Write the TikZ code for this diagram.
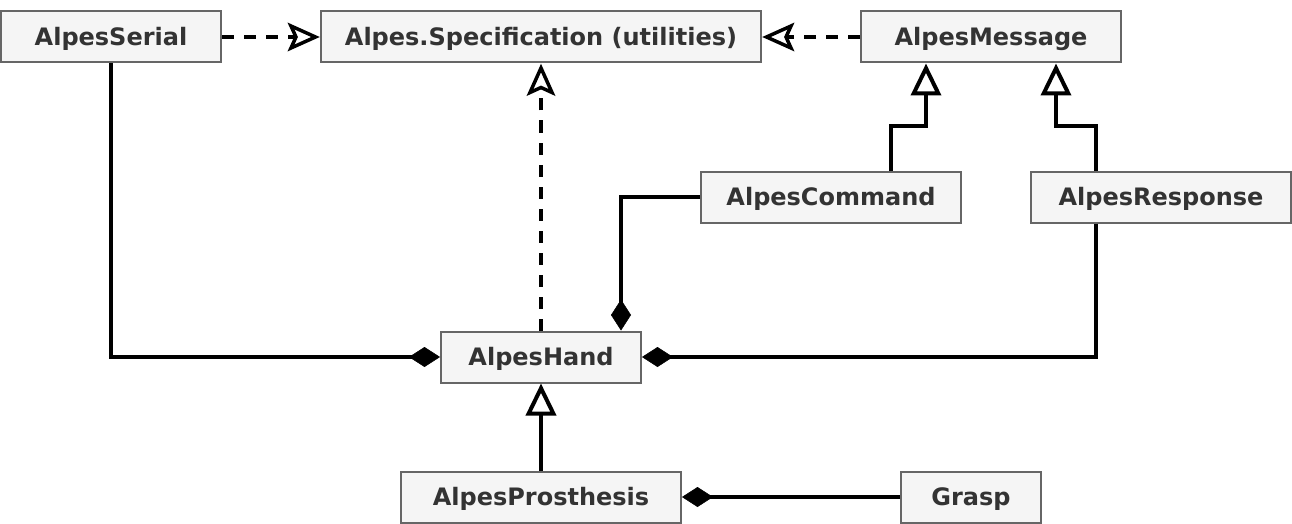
\documentclass[tikz,border=0pt]{standalone}
\usepackage{fontspec}
\setmainfont{DejaVu Sans}
\usetikzlibrary{arrows.meta}
\definecolor{boxfill}{HTML}{F5F5F5}
\definecolor{boxline}{HTML}{666666}
\definecolor{boxtext}{HTML}{333333}
\pgfdeclarearrow{
  name=UMLdep,
  parameters={dep},
  setup code={
    \pgfarrowssettipend{0pt}
    \pgfarrowssetbackend{-30pt}
    \pgfarrowssetlineend{-22pt}
  },
  drawing code={
    \pgfsetdash{}{0pt}
    \pgfsetlinewidth{3.5pt}
    \pgfsetmiterjoin
    \pgfpathmoveto{\pgfpoint{-4.5pt}{0pt}}
    \pgfpathlineto{\pgfpoint{-29pt}{11pt}}
    \pgfpathlineto{\pgfpoint{-24pt}{0pt}}
    \pgfpathlineto{\pgfpoint{-29pt}{-11pt}}
    \pgfpathclose
    \pgfsetfillcolor{white}
    \pgfusepathqfillstroke
  },
}
\tikzset{
  cls/.style={draw=boxline, fill=boxfill, line width=2pt, text=boxtext,
    font=\fontsize{24}{28}\selectfont\bfseries, inner sep=0pt,
    text height=17.5pt, text depth=0pt, minimum height=51pt},
  conn/.style={line width=4pt, draw=black},
  dep/.style={conn, dash pattern=on 12pt off 10pt, -UMLdep},
  inh/.style={conn, -{Triangle[open, length=32pt, width=30pt, line width=4pt, fill=white]}},
  comp/.style={conn, -{Diamond[length=31pt, width=20pt, fill=black, line width=0.5pt]}},
}
\begin{document}
\begin{tikzpicture}[x=1pt, y=-1pt]
\useasboundingbox (0,0) rectangle (1292,524);
\node[cls, minimum width=220pt] (serial) at (111,37) {AlpesSerial};
\node[cls, minimum width=440pt] (spec) at (541,37) {Alpes.Specification (utilities)};
\node[cls, minimum width=260pt] (msg) at (991,37) {AlpesMessage};
\node[cls, minimum width=260pt] (cmd) at (831,197) {AlpesCommand};
\node[cls, minimum width=260pt] (resp) at (1161,197) {AlpesResponse};
\node[cls, minimum width=200pt] (hand) at (541,357) {AlpesHand};
\node[cls, minimum width=280pt] (pros) at (541,497) {AlpesProsthesis};
\node[cls, minimum width=140pt] (grasp) at (971,497) {Grasp};

\draw[dep] (serial.east) -- (spec.west);
\draw[dep] (msg.west) -- (spec.east);
\draw[dep] (hand.north) -- (spec.south);
\draw[inh] ([xshift=60pt]cmd.north) -- ++(0,-44) -| ([xshift=-65pt]msg.south);
\draw[inh] ([xshift=-65pt]resp.north) -- ++(0,-44) -| ([xshift=65pt]msg.south);
\draw[comp] (serial.south) |- (hand.west);
\draw[comp] (cmd.west) -| ([xshift=80pt]hand.north);
\draw[comp] ([xshift=-65pt]resp.south) |- (hand.east);
\draw[inh] (pros.north) -- (hand.south);
\draw[comp] (grasp.west) -- (pros.east);
\end{tikzpicture}
\end{document}
